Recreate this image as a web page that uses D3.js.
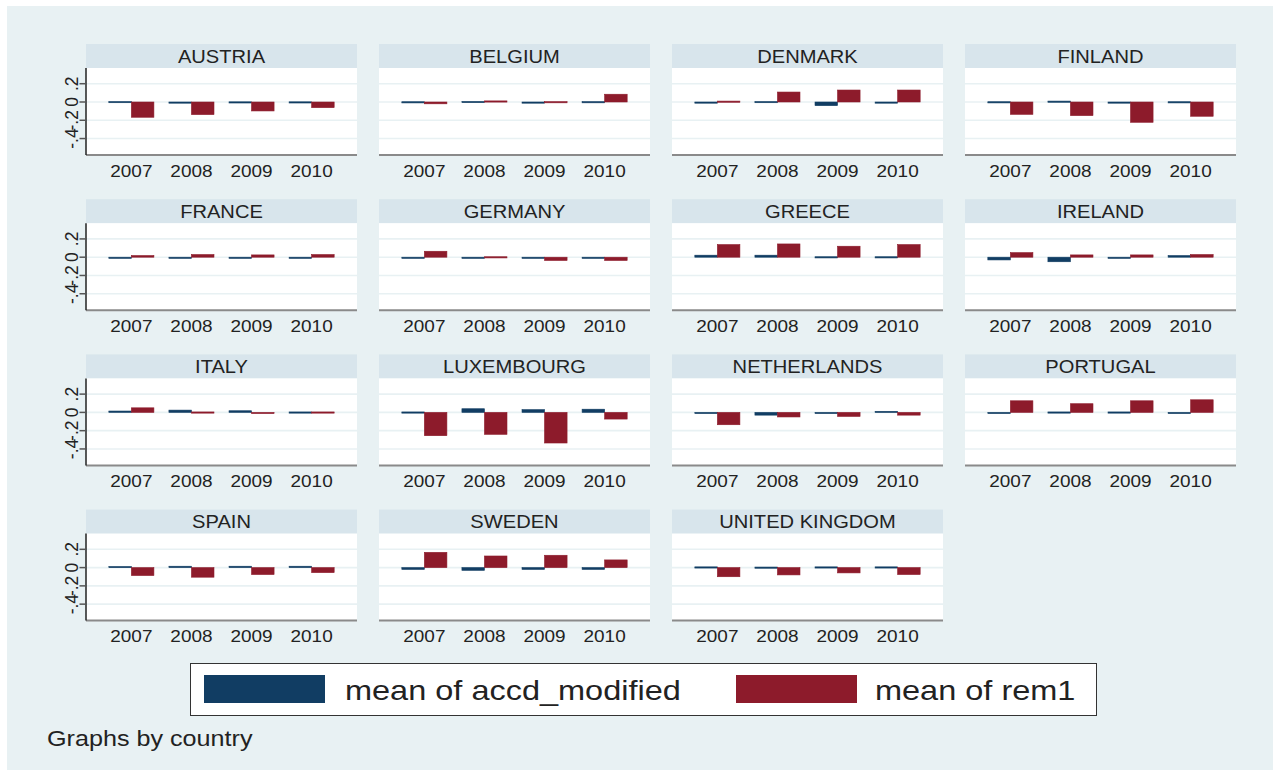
<!DOCTYPE html>
<html><head><meta charset="utf-8">
<script src="https://cdn.jsdelivr.net/npm/d3@7"></script>
<style>html,body{margin:0;padding:0;background:#fff;}svg{display:block;}</style>
</head><body>
<svg id="chart" width="1280" height="776"></svg>
<script>
// ---- data ----
const countries = ["AUSTRIA","BELGIUM","DENMARK","FINLAND","FRANCE","GERMANY","GREECE","IRELAND",
  "ITALY","LUXEMBOURG","NETHERLANDS","PORTUGAL","SPAIN","SWEDEN","UNITED KINGDOM"];
const years = ["2007","2008","2009","2010"];
const seriesNames = ["mean of accd_modified","mean of rem1"];
const accd = [
  [0.005,-0.005,0.002,0.002],   // AUSTRIA
  [0.003,0.006,-0.004,0.004],   // BELGIUM
  [-0.005,0.005,-0.04,-0.005],  // DENMARK
  [0.003,0.01,-0.008,0.003],    // FINLAND
  [-0.005,-0.005,-0.005,-0.005],// FRANCE
  [-0.005,-0.005,-0.005,-0.005],// GERMANY
  [0.022,0.022,0.005,0.005],    // GREECE
  [-0.03,-0.05,-0.003,0.018],   // IRELAND
  [0.015,0.025,0.018,0.005],    // ITALY
  [0.005,0.04,0.03,0.035],      // LUXEMBOURG
  [-0.004,-0.03,-0.005,0.012],  // NETHERLANDS
  [-0.004,0.005,0.005,-0.004],  // PORTUGAL
  [0.012,0.015,0.015,0.015],    // SPAIN
  [-0.02,-0.03,-0.02,-0.02],    // SWEDEN
  [0.008,0.006,0.008,0.008]     // UNITED KINGDOM
];
const rem1 = [
  [-0.167,-0.138,-0.098,-0.062],
  [-0.02,0.012,0.004,0.085],
  [0.01,0.109,0.131,0.131],
  [-0.135,-0.149,-0.222,-0.156],
  [0.018,0.029,0.025,0.029],
  [0.065,0.005,-0.036,-0.036],
  [0.138,0.145,0.12,0.138],
  [0.05,0.025,0.025,0.029],
  [0.05,0.005,-0.007,0.005],
  [-0.255,-0.24,-0.335,-0.073],
  [-0.135,-0.05,-0.044,-0.03],
  [0.127,0.095,0.127,0.138],
  [-0.087,-0.105,-0.076,-0.055],
  [0.167,0.127,0.135,0.084],
  [-0.1,-0.08,-0.058,-0.076]
];
const yTicks = [-0.4,-0.2,0,0.2];
const yTickLabels = ["-.4","-.2","0",".2"];
const yDomain = [-0.58, 0.372];

// ---- style ----
const colors = ["#113d63","#8d1b2b"];
const outerBg = "#e8f1f3", headerBg = "#d8e5ec", gridCol = "#e8f1f3";
const FONT = "'Liberation Sans', Arial, Helvetica, sans-serif";

const svg = d3.select("#chart");
svg.append("rect").attr("x",7).attr("y",6).attr("width",1266).attr("height",764).attr("fill",outerBg);

function stretch(sel, sx){
  sel.each(function(){
    const len = this.getComputedTextLength();
    d3.select(this).attr("textLength", len*sx).attr("lengthAdjust","spacingAndGlyphs");
  });
}

const panelW = 271, headerH = 24, plotH = 87;
const colStep = 293, rowStep = 155.2, x0 = 86, y0 = 44;

const x = d3.scaleBand().domain(years).range([0,panelW]).paddingInner(0.25).paddingOuter(0.38);
const xs = d3.scaleBand().domain(seriesNames).range([0,x.bandwidth()]);
const y = d3.scaleLinear().domain(yDomain).range([plotH,0]);

countries.forEach((c,i)=>{
  const col = i%4, row = Math.floor(i/4);
  const g = svg.append("g").attr("transform",`translate(${x0+col*colStep},${y0+row*rowStep})`);
  g.append("rect").attr("width",panelW).attr("height",headerH).attr("fill",headerBg);
  const ht = g.append("text").attr("x",panelW/2).attr("y",headerH/2+6.6).attr("text-anchor","middle")
    .attr("font-family",FONT).attr("font-size",18.3).attr("fill","#222").text(c);
  stretch(ht,1.1);
  const p = g.append("g").attr("transform",`translate(0,${headerH})`);
  p.append("rect").attr("width",panelW).attr("height",plotH).attr("fill","#fff");
  p.selectAll("line.grid").data(yTicks).enter().append("line")
    .attr("x1",0).attr("x2",panelW).attr("y1",d=>y(d)).attr("y2",d=>y(d))
    .attr("stroke",gridCol).attr("stroke-width",1.6);
  const vals = [accd[i], rem1[i]];
  seriesNames.forEach((s,si)=>{
    p.selectAll("rect.b"+si).data(years).enter().append("rect")
      .attr("x",(d)=>x(d)+xs(s))
      .attr("width",xs.bandwidth())
      .attr("y",(d,k)=>y(Math.max(0,vals[si][k])))
      .attr("height",(d,k)=>Math.max(1.2, Math.abs(y(vals[si][k])-y(0))))
      .attr("fill",colors[si]).attr("stroke",colors[si]).attr("stroke-width",0.6);
  });
  // bottom axis
  p.append("line").attr("x1",0).attr("x2",panelW).attr("y1",plotH).attr("y2",plotH)
    .attr("stroke","#8a8a8a").attr("stroke-width",2);
  const xt = p.selectAll("text.yr").data(years).enter().append("text")
    .attr("x",d=>x(d)+x.bandwidth()/2).attr("y",plotH+21.5).attr("text-anchor","middle")
    .attr("font-family",FONT).attr("font-size",16.8).attr("fill","#222").text(d=>d);
  stretch(xt,1.13);
  if(col===0){
    p.append("line").attr("x1",0).attr("x2",0).attr("y1",0).attr("y2",plotH)
      .attr("stroke","#222").attr("stroke-width",1.5);
    p.selectAll("line.tk").data(yTicks).enter().append("line")
      .attr("x1",-6.5).attr("x2",0).attr("y1",d=>y(d)).attr("y2",d=>y(d))
      .attr("stroke","#555").attr("stroke-width",1.5);
    p.selectAll("text.tl").data(yTicks).enter().append("text")
      .attr("transform",d=>`translate(-8,${y(d)}) rotate(-90)`)
      .attr("text-anchor","middle").attr("font-family",FONT).attr("font-size",17.5).attr("fill","#222")
      .text((d,k)=>yTickLabels[k]);
  }
});

// legend
const lg = svg.append("g");
lg.append("rect").attr("x",190.5).attr("y",663.5).attr("width",906).attr("height",52)
  .attr("fill","#fff").attr("stroke","#333").attr("stroke-width",1);
const legX = [204, 736], legTX = [345, 875];
seriesNames.forEach((s,si)=>{
  lg.append("rect").attr("x",legX[si]).attr("y",675).attr("width",121).attr("height",28).attr("fill",colors[si]);
  const t = lg.append("text").attr("x",legTX[si]).attr("y",700).attr("font-family",FONT)
    .attr("font-size",28).attr("fill","#222").text(s);
  stretch(t,1.16);
});
const note = svg.append("text").attr("x",47).attr("y",745.5).attr("font-family",FONT)
  .attr("font-size",21.5).attr("fill","#222").text("Graphs by country");
stretch(note,1.17);
</script>
</body></html>
